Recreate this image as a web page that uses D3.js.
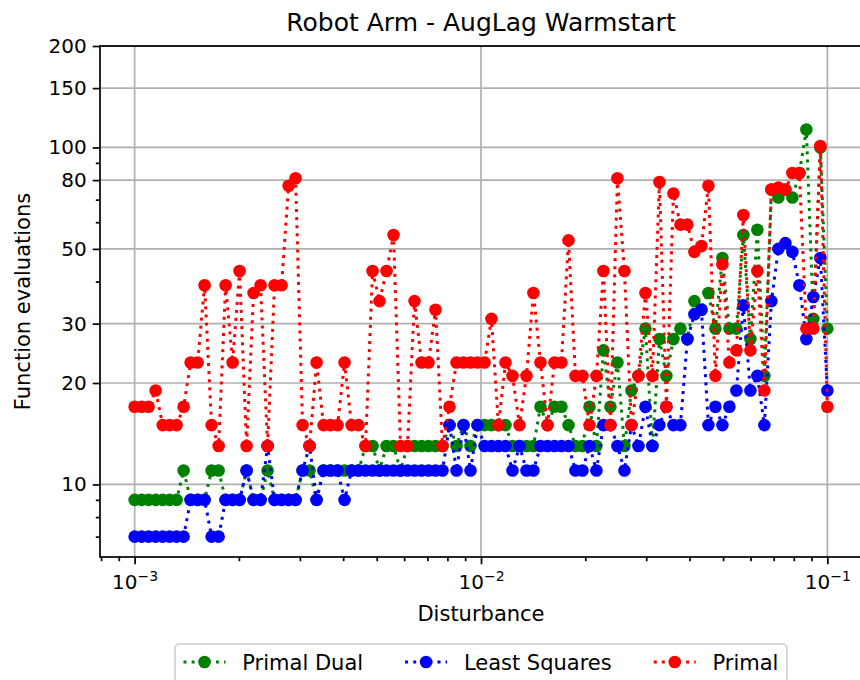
<!DOCTYPE html>
<html>
<head>
<meta charset="utf-8">
<script src="https://cdn.jsdelivr.net/npm/d3@7/dist/d3.min.js"></script>
<style>
    body { margin: 0; background: #ffffff; }
    svg text { font-family: "DejaVu Sans", sans-serif; fill: #000; }
</style>
</head>
<body>
<svg id="svgChart" width="860" height="680"></svg>
<script>
// disturbance levels (x axis)
const disturbance = [
    0.001000, 0.001048, 0.001097, 0.001150, 0.001205, 0.001262, 0.001322, 0.001385, 0.001451, 0.001520,
    0.001592, 0.001668, 0.001748, 0.001831, 0.001918, 0.002009, 0.002105, 0.002205, 0.002310, 0.002420,
    0.002535, 0.002656, 0.002783, 0.002915, 0.003054, 0.003199, 0.003352, 0.003511, 0.003678, 0.003854,
    0.004037, 0.004229, 0.004431, 0.004642, 0.004863, 0.005094, 0.005337, 0.005591, 0.005857, 0.006136,
    0.006428, 0.006734, 0.007055, 0.007391, 0.007743, 0.008111, 0.008498, 0.008902, 0.009326, 0.009770,
    0.01024, 0.01072, 0.01123, 0.01177, 0.01233, 0.01292, 0.01353, 0.01417, 0.01485, 0.01556,
    0.01630, 0.01707, 0.01789, 0.01874, 0.01963, 0.02057, 0.02154, 0.02257, 0.02364, 0.02477,
    0.02595, 0.02719, 0.02848, 0.02984, 0.03126, 0.03275, 0.03430, 0.03594, 0.03765, 0.03944,
    0.04132, 0.04329, 0.04535, 0.04751, 0.04977, 0.05214, 0.05462, 0.05722, 0.05995, 0.06280,
    0.06579, 0.06893, 0.07221, 0.07565, 0.07925, 0.08302, 0.08697, 0.09112, 0.09545, 0.1000
];

// function evaluations per method
const primalDual = [
    9, 9, 9, 9, 9, 9, 9, 11, 9, 9,
    9, 11, 11, 9, 9, 9, 11, 9, 9, 11,
    9, 9, 9, 9, 11, 11, 9, 11, 11, 11,
    11, 11, 11, 13, 13, 11, 13, 13, 11, 13,
    13, 13, 13, 13, 13, 15, 13, 15, 13, 15,
    15, 15, 15, 15, 13, 13, 13, 13, 17, 15,
    17, 17, 15, 13, 13, 17, 13, 25, 17, 23,
    13, 19, 21, 29, 13, 27, 21, 27, 29, 27,
    35, 33, 37, 29, 47, 29, 29, 55, 27, 57,
    21, 75, 71, 75, 71, 84, 113, 31, 100, 29
];

const leastSquares = [
    7, 7, 7, 7, 7, 7, 7, 7, 9, 9,
    9, 7, 7, 9, 9, 9, 11, 9, 9, 13,
    9, 9, 9, 9, 11, 13, 9, 11, 11, 11,
    9, 11, 11, 11, 11, 11, 11, 11, 11, 11,
    11, 11, 11, 11, 11, 15, 11, 15, 11, 15,
    13, 13, 13, 13, 11, 13, 11, 11, 13, 13,
    13, 13, 13, 11, 11, 13, 11, 15, 15, 13,
    11, 15, 13, 17, 13, 15, 17, 15, 15, 27,
    32, 33, 15, 17, 15, 17, 19, 34, 19, 21,
    15, 35, 50, 52, 49, 39, 27, 36, 47, 19
];

const primal = [
    17, 17, 17, 19, 15, 15, 15, 17, 23, 23,
    39, 15, 13, 39, 23, 43, 13, 37, 39, 13,
    39, 39, 77, 81, 15, 13, 23, 15, 15, 15,
    23, 15, 15, 13, 43, 35, 43, 55, 13, 13,
    35, 23, 23, 33, 13, 17, 23, 23, 23, 23,
    23, 31, 15, 23, 21, 15, 21, 37, 23, 15,
    23, 23, 53, 21, 21, 15, 21, 43, 15, 81,
    43, 15, 21, 37, 21, 79, 17, 73, 59, 59,
    49, 51, 77, 21, 45, 23, 25, 63, 25, 43,
    19, 75, 76, 75, 84, 84, 29, 29, 101, 17
];

const seriesNames = ["Primal Dual", "Least Squares", "Primal"];
const yTickValues = [10, 20, 30, 50, 80, 100, 150, 200];
const xTickExponents = [-3, -2, -1];

const seriesColors = ["#008000", "#0000ff", "#ff0000"];

// layout
const box = {left: 100, right: 862, top: 46, bottom: 557};
const fontSize = 21;

const svg = d3.select("#svgChart");

// axis limits like matplotlib: 5% margin in log space
const lx = d3.extent(disturbance).map(Math.log10);
const padX = (lx[1] - lx[0]) * 0.05;
const allY = primalDual.concat(leastSquares, primal);
const ly = d3.extent(allY).map(Math.log10);
const yMin = Math.pow(10, ly[0] - (ly[1] - ly[0]) * 0.05);

const x = d3.scaleLog()
    .domain([Math.pow(10, lx[0] - padX), Math.pow(10, lx[1] + padX)])
    .range([box.left, box.right]);

const y = d3.scaleLog()
    .domain([yMin, 200])
    .range([box.bottom, box.top]);

// grid lines
const grid = svg.append("g").attr("class", "grid");
grid.selectAll(".vgrid")
    .data(xTickExponents)
    .enter().append("line")
    .attr("x1", d => x(Math.pow(10, d))).attr("x2", d => x(Math.pow(10, d)))
    .attr("y1", box.top).attr("y2", box.bottom)
    .attr("stroke", "#b0b0b0").attr("stroke-width", 1.7);
grid.selectAll(".hgrid")
    .data(yTickValues)
    .enter().append("line")
    .attr("x1", box.left).attr("x2", box.right)
    .attr("y1", d => y(d)).attr("y2", d => y(d))
    .attr("stroke", "#b0b0b0").attr("stroke-width", 1.7);

// series: dotted line + round markers
const line = d3.line()
    .x(d => x(d[0]))
    .y(d => y(d[1]));

const allSeries = [primalDual, leastSquares, primal];
const plot = svg.append("g").attr("class", "plot");

allSeries.forEach((values, k) => {
    const pts = disturbance.map((d, i) => [d, values[i]]);
    plot.append("path")
        .datum(pts)
        .attr("d", line)
        .attr("fill", "none")
        .attr("stroke", seriesColors[k])
        .attr("stroke-width", 3)
        .attr("stroke-dasharray", "3,5.1");
    plot.append("g").selectAll("circle")
        .data(pts)
        .enter().append("circle")
        .attr("cx", d => x(d[0]))
        .attr("cy", d => y(d[1]))
        .attr("r", 6.3)
        .attr("fill", seriesColors[k]);
});

// spines
svg.append("rect")
    .attr("x", box.left).attr("y", box.top)
    .attr("width", box.right - box.left).attr("height", box.bottom - box.top)
    .attr("fill", "none").attr("stroke", "#000").attr("stroke-width", 1.7);

// minor ticks (2..9 per decade, skipping major ones)
function minorTicks(scale, skip) {
    const dom = scale.domain();
    const out = [];
    for (let e = Math.floor(Math.log10(dom[0])); e <= Math.ceil(Math.log10(dom[1])); e++) {
        for (let m = 2; m <= 9; m++) {
            const v = m * Math.pow(10, e);
            if (v >= dom[0] && v <= dom[1] && !skip.some(s => Math.abs(s - v) / v < 1e-6)) out.push(v);
        }
    }
    return out;
}

// x axis
const xMajor = xTickExponents.map(e => Math.pow(10, e));
const xAxis = svg.append("g")
    .attr("transform", "translate(0," + box.bottom + ")")
    .call(d3.axisBottom(x).tickValues(xMajor).tickFormat("").tickSize(7.3).tickSizeOuter(0));
svg.append("g")
    .attr("transform", "translate(0," + box.bottom + ")")
    .call(d3.axisBottom(x).tickValues(minorTicks(x, xMajor)).tickFormat("").tickSize(4.2).tickSizeOuter(0));

// x tick labels as 10^e
xAxis.selectAll(".tick").each(function(d, i) {
    const t = d3.select(this).append("text")
        .attr("y", 32)
        .attr("text-anchor", "middle")
        .style("font-size", "20px");
    t.append("tspan").text("10");
    t.append("tspan")
        .attr("dy", "-0.55em")
        .style("font-size", "14px")
        .text("\u2212" + Math.abs(xTickExponents[i]));
});

// y axis
const yAxis = svg.append("g")
    .attr("transform", "translate(" + box.left + ",0)")
    .call(d3.axisLeft(y).tickValues(yTickValues).tickFormat(d3.format("d")).tickSize(7.3).tickPadding(6).tickSizeOuter(0));
yAxis.selectAll("text").style("font-size", "20px");
svg.append("g")
    .attr("transform", "translate(" + box.left + ",0)")
    .call(d3.axisLeft(y).tickValues(minorTicks(y, yTickValues)).tickFormat("").tickSize(4.2).tickSizeOuter(0));

svg.selectAll(".domain").remove();
svg.selectAll(".tick line").attr("stroke-width", 1.7);

// titles
svg.append("text")
    .attr("x", (box.left + box.right) / 2).attr("y", 31)
    .attr("text-anchor", "middle")
    .style("font-size", "25px")
    .text("Robot Arm - AugLag Warmstart");

svg.append("text")
    .attr("x", (box.left + box.right) / 2).attr("y", 621)
    .attr("text-anchor", "middle")
    .style("font-size", fontSize + "px")
    .text("Disturbance");

svg.append("text")
    .attr("transform", "translate(30," + ((box.top + box.bottom) / 2) + ") rotate(-90)")
    .attr("text-anchor", "middle")
    .style("font-size", fontSize + "px")
    .text("Function evaluations");

// legend below the axes, 3 columns
const legend = svg.append("g").attr("class", "legend");
const legendFrame = legend.append("rect");
const handleLen = 2 * fontSize, textPad = 0.8 * fontSize, colSpace = 2 * fontSize, borderPad = 0.4 * fontSize;
const rowY = 662;
let cx = 0;
seriesNames.forEach((name, k) => {
    legend.append("line")
        .attr("x1", cx).attr("x2", cx + handleLen)
        .attr("y1", rowY).attr("y2", rowY)
        .attr("stroke", seriesColors[k]).attr("stroke-width", 3)
        .attr("stroke-dasharray", "3,5.1");
    legend.append("circle")
        .attr("cx", cx + handleLen / 2).attr("cy", rowY)
        .attr("r", 6.3).attr("fill", seriesColors[k]);
    const t = legend.append("text")
        .attr("x", cx + handleLen + textPad).attr("y", rowY + 7.5)
        .style("font-size", fontSize + "px")
        .text(name);
    cx += handleLen + textPad + t.node().getComputedTextLength() + colSpace;
});
const legendW = cx - colSpace + 2 * borderPad;
legendFrame
    .attr("x", -borderPad).attr("y", 644)
    .attr("width", legendW).attr("height", 60)
    .attr("rx", 4)
    .attr("fill", "#fff").attr("fill-opacity", 0.8)
    .attr("stroke", "#cccccc").attr("stroke-width", 1.5);
legend.attr("transform", "translate(" + ((box.left + box.right) / 2 - legendW / 2 + borderPad) + ",0)");
</script>
</body>
</html>
